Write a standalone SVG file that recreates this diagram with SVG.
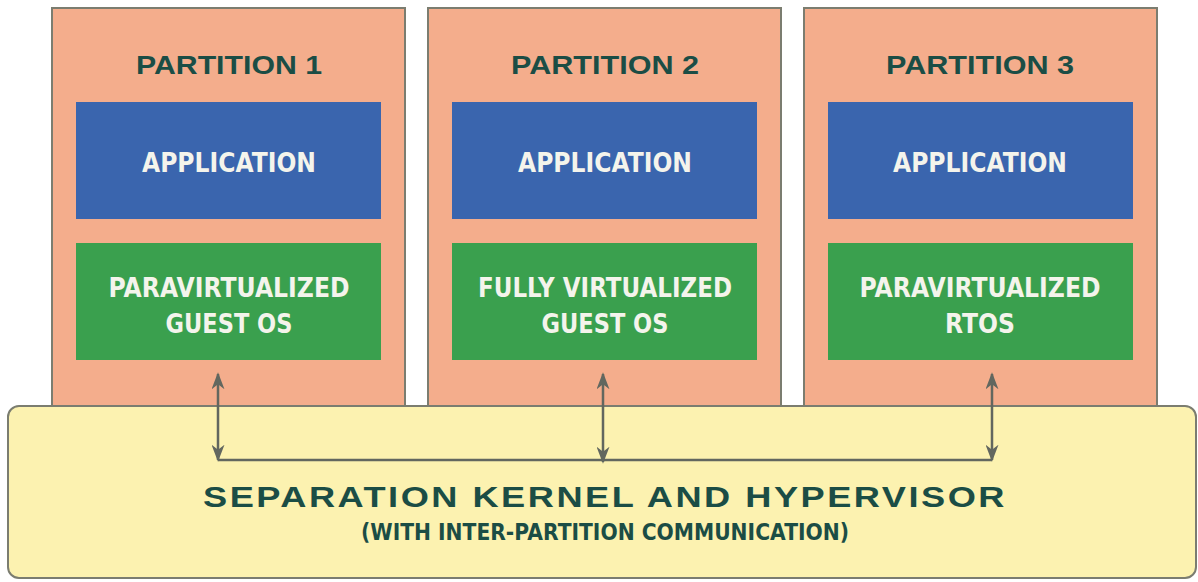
<svg xmlns="http://www.w3.org/2000/svg" width="1198" height="582" viewBox="0 0 1198 582">
<defs>
<marker id="ah" viewBox="0 0 10 10" refX="9" refY="5" markerWidth="17" markerHeight="13" markerUnits="userSpaceOnUse" orient="auto-start-reverse" preserveAspectRatio="none">
<path d="M0,0 L10,5 L0,10 L3,5 Z" fill="#62675f"/>
</marker>
<style>
.part{fill:#f4ad8c;stroke:#7b7d70;stroke-width:2}
.app{fill:#3a65ae}
.os{fill:#3aa04e}
.ptitle{font-family:"Liberation Sans",Arial,sans-serif;font-weight:bold;font-size:26px;fill:#1b4d45;text-anchor:middle}
.wt{font-family:"DejaVu Sans","Liberation Sans",sans-serif;font-weight:bold;font-size:27px;fill:#f4f4ec;text-anchor:middle}
.kern{fill:#fcf2b0;stroke:#7b7d70;stroke-width:2}
.k1{font-family:"Liberation Sans",Arial,sans-serif;font-weight:bold;font-size:29px;fill:#1b4d45;text-anchor:middle}
.k2{font-family:"DejaVu Sans","Liberation Sans",sans-serif;font-weight:bold;font-size:23px;fill:#1b4d45;text-anchor:middle}
.conn{fill:none;stroke:#62675f;stroke-width:2.5}
</style>
</defs>
<rect width="1198" height="582" fill="#ffffff"/>
<g id="partition1">
<rect class="part" x="52" y="8" width="353" height="410"/>
<text class="ptitle" x="229" y="74" textLength="186" lengthAdjust="spacingAndGlyphs">PARTITION 1</text>
<rect class="app" x="76" y="102" width="305" height="117"/>
<text class="wt" x="229" y="172" textLength="174" lengthAdjust="spacingAndGlyphs">APPLICATION</text>
<rect class="os" x="76" y="243" width="305" height="117"/>
<text class="wt" x="229" y="297" textLength="241" lengthAdjust="spacingAndGlyphs">PARAVIRTUALIZED</text>
<text class="wt" x="229" y="333" textLength="127" lengthAdjust="spacingAndGlyphs">GUEST OS</text>
</g>
<g id="partition2">
<rect class="part" x="428" y="8" width="353" height="410"/>
<text class="ptitle" x="605" y="74" textLength="188" lengthAdjust="spacingAndGlyphs">PARTITION 2</text>
<rect class="app" x="452" y="102" width="305" height="117"/>
<text class="wt" x="605" y="172" textLength="174" lengthAdjust="spacingAndGlyphs">APPLICATION</text>
<rect class="os" x="452" y="243" width="305" height="117"/>
<text class="wt" x="605" y="297" textLength="254" lengthAdjust="spacingAndGlyphs">FULLY VIRTUALIZED</text>
<text class="wt" x="605" y="333" textLength="127" lengthAdjust="spacingAndGlyphs">GUEST OS</text>
</g>
<g id="partition3">
<rect class="part" x="804" y="8" width="353" height="410"/>
<text class="ptitle" x="980" y="74" textLength="188" lengthAdjust="spacingAndGlyphs">PARTITION 3</text>
<rect class="app" x="828" y="102" width="305" height="117"/>
<text class="wt" x="980" y="172" textLength="174" lengthAdjust="spacingAndGlyphs">APPLICATION</text>
<rect class="os" x="828" y="243" width="305" height="117"/>
<text class="wt" x="980" y="297" textLength="241" lengthAdjust="spacingAndGlyphs">PARAVIRTUALIZED</text>
<text class="wt" x="980" y="333" textLength="70" lengthAdjust="spacingAndGlyphs">RTOS</text>
</g>
<g id="kernel">
<rect class="kern" x="8" y="406" width="1188" height="172" rx="11"/>
<text class="k1" x="605" y="507" textLength="804" lengthAdjust="spacingAndGlyphs" letter-spacing="2">SEPARATION KERNEL AND HYPERVISOR</text>
<text class="k2" x="605" y="540" textLength="488" lengthAdjust="spacingAndGlyphs">(WITH INTER-PARTITION COMMUNICATION)</text>
</g>
<g id="connectors">
<path class="conn" d="M218,460 H992"/>
<path class="conn" d="M218,374 V460" marker-start="url(#ah)" marker-end="url(#ah)"/>
<path class="conn" d="M603,374 V462" marker-start="url(#ah)" marker-end="url(#ah)"/>
<path class="conn" d="M992,374 V460" marker-start="url(#ah)" marker-end="url(#ah)"/>
</g>
</svg>
